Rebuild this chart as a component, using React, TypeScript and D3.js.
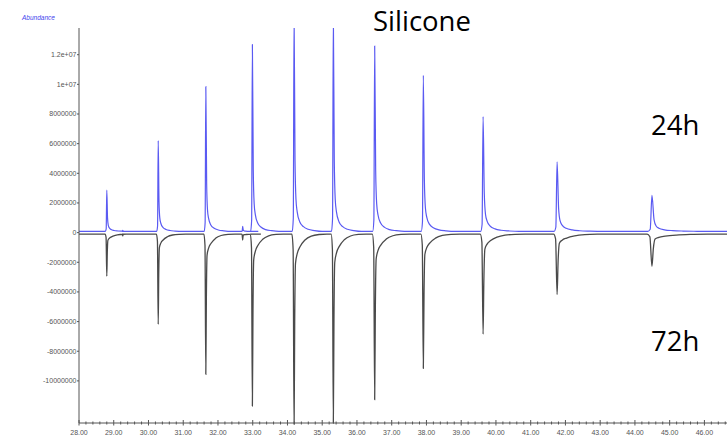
import React from "react";
import * as d3 from "d3";

// Peak retention times (min)
const peakTimes = [28.8, 29.26, 30.28, 31.65, 32.71, 32.99, 34.19, 35.32, 36.51, 37.91, 39.63, 41.76, 44.49];
// 24h (blue, upward) peak heights
const heights24h = [2.78e6, 0.08e6, 6.12e6, 9.76e6, 0.35e6, 12.6e6, 14.6e6, 14.6e6, 12.5e6, 10.52e6, 7.74e6, 4.7e6, 2.43e6];
// 72h (black, downward) peak heights
const heights72h = [-2.83e6, -0.12e6, -6.09e6, -9.46e6, -0.4e6, -11.6e6, -13.2e6, -12.75e6, -11.17e6, -9.06e6, -6.75e6, -4.07e6, -2.18e6];
// peak broadening factor
const peakWidths = [0.7, 0.3, 0.75, 0.8, 0.5, 0.85, 0.9, 0.9, 0.95, 1.0, 1.15, 1.45, 2.0];

// Peak shape profiles [offset (min), fraction of height]
const blueProfile: [number, number][] = [
  [-0.06, 0], [-0.025, 0.06], [0, 1], [0.03, 0.33], [0.06, 0.15], [0.1, 0.09],
  [0.18, 0.045], [0.3, 0.022], [0.45, 0.01], [0.65, 0.004], [0.9, 0],
];
const blackProfile: [number, number][] = [
  [-0.07, 0], [-0.03, 0.08], [0, 1], [0.02, 0.45], [0.045, 0.15], [0.1, 0.1],
  [0.19, 0.065], [0.35, 0.03], [0.55, 0.01], [0.8, 0.002], [1.05, 0],
];

const baseline24h = 0.08e6;
const baseline72h = -0.1e6;

const yTicks = [12e6, 10e6, 8e6, 6e6, 4e6, 2e6, 0, -2e6, -4e6, -6e6, -8e6, -10e6];
const yTickLabels = ["1.2e+07", "1e+07", "8000000", "6000000", "4000000", "2000000", "0", "-2000000", "-4000000", "-6000000", "-8000000", "-10000000"];
const xTicks = [28, 29, 30, 31, 32, 33, 34, 35, 36, 37, 38, 39, 40, 41, 42, 43, 44, 45, 46];

const W = 727;
const H = 438;
const left = 79;
const top = 28;
const bottom = 423;

const x = d3.scaleLinear().domain([28, 46.65]).range([left, W]);
const y = d3.scaleLinear().domain([-12.84e6, 13.8e6]).range([bottom, top]);

function buildTrace(heights: number[], profile: [number, number][], base: number): [number, number][] {
  const pts: [number, number][] = [[28, base]];
  peakTimes.forEach((t, i) => {
    profile.forEach(([off, frac]) => {
      pts.push([t + off * peakWidths[i], base + frac * heights[i]]);
    });
  });
  pts.push([46.65, base]);
  return pts;
}

export default function App() {
  const line = d3
    .line<[number, number]>()
    .x((d) => x(d[0]))
    .y((d) => y(d[1]))
    .curve(d3.curveMonotoneX);

  const blue = buildTrace(heights24h, blueProfile, baseline24h);
  const black = buildTrace(heights72h, blackProfile, baseline72h);

  const minorTicks = d3.range(28, 46.65, 0.2).filter((v) => Math.abs(v - Math.round(v)) > 0.01);

  const font = "'Liberation Sans', Arial, sans-serif";
  return (
    <svg width={W} height={H} style={{ position: "absolute", left: 0, top: 0, background: "#fff" }}>
      <defs>
        <clipPath id="plot">
          <rect x={left} y={top} width={W - left} height={bottom - top + 1.5} />
        </clipPath>
      </defs>
      <text x={22} y={20} fontSize={6.5} fontStyle="italic" fill="#4444ee" fontFamily={font}>
        Abundance
      </text>
      <g clipPath="url(#plot)">
        <path d={line(black) || ""} fill="none" stroke="#4a4a4a" strokeWidth={1.3} />
        <path d={line(blue) || ""} fill="none" stroke="#5a5af2" strokeWidth={1.2} />
      </g>
      {/* y axis */}
      <line x1={left} x2={left} y1={top} y2={bottom} stroke="#555" strokeWidth={1} />
      {yTicks.map((v, i) => (
        <g key={v}>
          <line x1={left - 2} x2={left} y1={y(v)} y2={y(v)} stroke="#555" />
          <text x={left - 2.5} y={y(v) + 2.5} fontSize={7} textAnchor="end" fill="#555" fontFamily={font}>
            {yTickLabels[i]}
          </text>
        </g>
      ))}
      {/* x axis */}
      <line x1={left} x2={W} y1={bottom} y2={bottom} stroke="#555" strokeWidth={1} />
      {minorTicks.map((v) => (
        <line key={v} x1={x(v)} x2={x(v)} y1={bottom - 1.5} y2={bottom + 1.5} stroke="#555" />
      ))}
      {xTicks.map((v) => (
        <g key={v}>
          <line x1={x(v)} x2={x(v)} y1={bottom - 3} y2={bottom + 2.5} stroke="#555" />
          <text x={x(v)} y={435} fontSize={7} textAnchor="middle" fill="#555" fontFamily={font}>
            {v.toFixed(2)}
          </text>
        </g>
      ))}
      <text x={373} y={31} fontSize={27.5} fill="#000" fontFamily="'Open Sans', sans-serif">
        Silicone
      </text>
      <text x={651} y={135} fontSize={27.5} fill="#000" fontFamily="'Open Sans', sans-serif">
        24h
      </text>
      <text x={651} y={351} fontSize={27.5} fill="#000" fontFamily="'Open Sans', sans-serif">
        72h
      </text>
    </svg>
  );
}
